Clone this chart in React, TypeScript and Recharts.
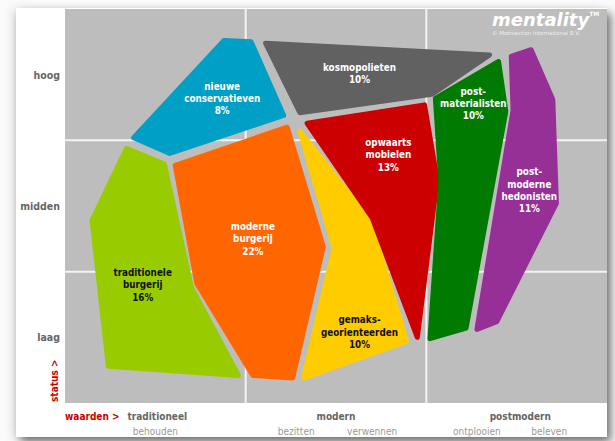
import React from 'react';
import { ScatterChart, Scatter, XAxis, YAxis, ReferenceArea, ReferenceLine } from 'recharts';

// status axis (vertical), values axis (horizontal), both in grid cells 0..3
const statusTicks = [0.5, 1.5, 2.5];
const statusLabels = ['laag', 'midden', 'hoog'];

const valueTicks = [0.5, 1.5, 2.52];
const valueLabels = ['traditioneel', 'modern', 'postmodern'];
const subTicks = [0.5, 1.28, 1.7, 2.28, 2.68];
const subLabels = ['behouden', 'bezitten', 'verwennen', 'ontplooien', 'beleven'];

const segmentNames = [
  ['traditionele', 'burgerij'],
  ['moderne', 'burgerij'],
  ['gemaks-', 'georienteerden'],
  ['nieuwe', 'conservatieven'],
  ['kosmopolieten'],
  ['opwaarts', 'mobielen'],
  ['post-', 'materialisten'],
  ['post-', 'moderne', 'hedonisten'],
];
const shares = [16, 22, 10, 8, 10, 13, 10, 11];

// label centre of each segment
const labelX = [0.43, 1.04, 1.63, 0.87, 1.63, 1.79, 2.26, 2.57];
const labelY = [0.9, 1.25, 0.54, 2.32, 2.51, 1.89, 2.28, 1.62];

// outline of each segment [x, y]
const outlines: number[][][] = [
  [[0.34, 1.94], [0.55, 1.82], [0.7, 0.88], [0.96, 0.21], [0.24, 0.28], [0.15, 1.39]],
  [[0.61, 1.81], [1.23, 2.1], [1.43, 1.19], [1.26, 0.19], [1.04, 0.21], [0.73, 0.91]],
  [[1.3, 2.07], [1.69, 1.39], [1.89, 0.47], [1.32, 0.19], [1.49, 1.18]],
  [[0.88, 2.76], [1.03, 2.75], [1.21, 2.19], [0.58, 1.9], [0.38, 2.02]],
  [[1.11, 2.74], [2.35, 2.65], [2.03, 2.35], [1.3, 2.21]],
  [[1.34, 2.13], [1.99, 2.27], [2.06, 1.7], [1.95, 0.5], [1.7, 1.41]],
  [[2.05, 2.32], [2.4, 2.6], [2.44, 2.22], [2.22, 0.57], [2.02, 0.49], [2.08, 1.69]],
  [[2.47, 2.64], [2.58, 2.69], [2.7, 2.31], [2.72, 1.52], [2.39, 0.62], [2.28, 0.56], [2.48, 2.23]],
];

const colors = ['#99cc00', '#ff6600', '#ffcc00', '#009fc6', '#616161', '#cc0000', '#017a01', '#963096'];
const darkText = [true, false, true, false, false, false, false, false];

const font = "'DejaVu Sans Condensed', 'Liberation Sans Narrow', sans-serif";

const labelData = segmentNames.map((name, i) => ({
  x: labelX[i],
  y: labelY[i],
  lines: [...name, `${shares[i]}%`],
  dark: darkText[i],
}));

const noDot = () => <g />;

const polygon = (color: string) => (p: any) => {
  const pts = p.points || [];
  if (!pts.length) return <g />;
  const d = pts.map((pt: any, i: number) => `${i ? 'L' : 'M'}${pt.x},${pt.y}`).join(' ') + ' Z';
  return <path d={d} fill={color} stroke={color} strokeWidth={5} strokeLinejoin="round" />;
};

const SegmentLabel = (props: any) => {
  const { cx, cy, payload } = props;
  const n = payload.lines.length;
  return (
    <text
      textAnchor="middle"
      fontFamily={font}
      fontWeight="bold"
      fontSize={9.8}
      fill={payload.dark ? '#111' : '#fff'}
    >
      {payload.lines.map((l: string, i: number) => (
        <tspan key={i} x={cx} y={cy + (i - (n - 1) / 2) * 12.3} dominantBaseline="central">
          {l}
        </tspan>
      ))}
    </text>
  );
};

const XTick = (props: any) => {
  const { x, y, payload } = props;
  const main = valueTicks.indexOf(payload.value);
  const sub = subTicks.indexOf(payload.value);
  return (
    <g fontFamily={font} fontSize={10} textAnchor="middle">
      {main >= 0 && (
        <text x={x + (main === 0 ? 2 : 0)} y={y + 13} fill="#666" fontWeight="bold" dominantBaseline="central">
          {valueLabels[main]}
        </text>
      )}
      {sub >= 0 && (
        <text x={x} y={y + 28} fill="#9a9a9a" dominantBaseline="central">
          {subLabels[sub]}
        </text>
      )}
    </g>
  );
};

const YTick = (props: any) => {
  const { x, y, payload } = props;
  const i = statusTicks.indexOf(payload.value);
  return (
    <text x={x} y={y} textAnchor="end" dominantBaseline="central" fontFamily={font} fontSize={10.5} fontWeight="bold" fill="#666">
      {statusLabels[i]}
    </text>
  );
};

const allXTicks = Array.from(new Set([...valueTicks, ...subTicks])).sort((a, b) => a - b);

export default function App() {
  return (
    <div style={{ position: 'absolute', left: 0, top: 0, width: 615, height: 441, background: '#fbfbfb', overflow: 'hidden' }}>
      <div
        style={{
          position: 'absolute',
          left: 16,
          top: 8,
          width: 591,
          height: 429,
          background: '#fff',
          boxShadow: '4px 5px 9px rgba(0,0,0,0.55), -5px 0 10px rgba(0,0,0,0.08)',
        }}
      />
      <div style={{ position: 'absolute', left: 0, top: 0 }}>
        <ScatterChart width={615} height={441} margin={{ top: 9, right: 8, bottom: 8, left: 5 }}>
          <XAxis
            type="number"
            dataKey="x"
            domain={[0, 3]}
            ticks={allXTicks}
            interval={0}
            tick={<XTick />}
            tickSize={0}
            tickMargin={0}
            axisLine={false}
            tickLine={false}
            height={30}
            label={{
              content: (p: any) => (
                <text x={p.viewBox.x} y={p.viewBox.y + 13} dominantBaseline="central" fontFamily={font} fontWeight="bold" fontSize={10} fill="#cc0000">
                  waarden &gt;
                </text>
              ),
            }}
          />
          <YAxis
            type="number"
            dataKey="y"
            domain={[0, 3]}
            ticks={statusTicks}
            interval={0}
            tick={<YTick />}
            tickSize={0}
            tickMargin={5}
            axisLine={false}
            tickLine={false}
            width={60}
            label={{
              content: (p: any) => {
                const lx = p.viewBox.x + p.viewBox.width - 11;
                const ly = p.viewBox.y + p.viewBox.height - 1;
                return (
                  <text x={lx} y={ly} transform={`rotate(-90 ${lx} ${ly})`} dominantBaseline="central" fontFamily={font} fontWeight="bold" fontSize={10} fill="#cc0000">
                    status &gt;
                  </text>
                );
              },
            }}
          />
          <ReferenceArea x1={0} x2={3} y1={0} y2={3} fill="#bdbdbd" fillOpacity={1} stroke="none" />
          <ReferenceLine x={1} stroke="#f4f4f4" strokeWidth={2} />
          <ReferenceLine x={2} stroke="#f4f4f4" strokeWidth={2} />
          <ReferenceLine y={1} stroke="#f4f4f4" strokeWidth={2} />
          <ReferenceLine y={2} stroke="#f4f4f4" strokeWidth={2} />
          {outlines.map((o, i) => (
            <Scatter
              key={i}
              data={o.map(([x, y]) => ({ x, y }))}
              shape={noDot}
              line={polygon(colors[i])}
              lineType="joint"
              isAnimationActive={false}
            />
          ))}
          <Scatter data={labelData} shape={SegmentLabel} isAnimationActive={false} />
        </ScatterChart>
      </div>
      <div style={{ position: 'absolute', left: 492, top: 11, fontFamily: "'DejaVu Sans', sans-serif", color: '#fff', lineHeight: 1 }}>
        <div style={{ fontSize: 18, fontWeight: 'bold', fontStyle: 'italic', letterSpacing: 0 }}>
          mentality<span style={{ fontSize: 6, verticalAlign: 'top', fontStyle: 'normal' }}>TM</span>
        </div>
        <div style={{ fontSize: 5.5, color: '#eee', marginTop: 2 }}>© Motivaction International B.V.</div>
      </div>
    </div>
  );
}
